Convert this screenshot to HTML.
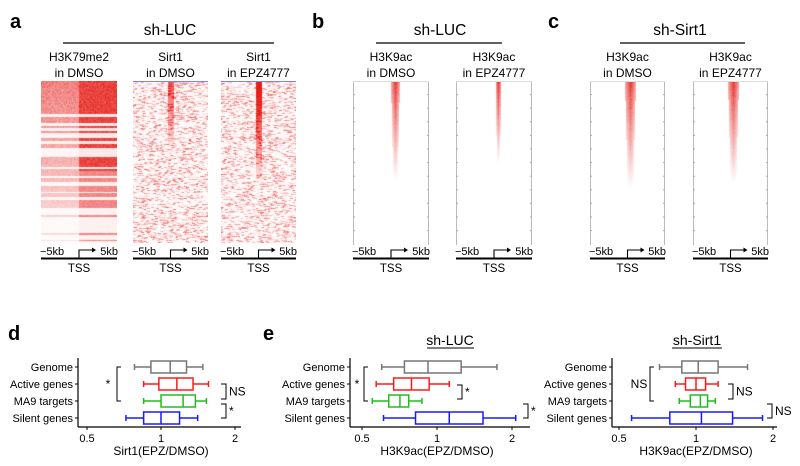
<!DOCTYPE html>
<html><head><meta charset="utf-8"><style>
html,body{margin:0;padding:0;background:#fff;}
#root{position:relative;width:800px;height:466px;overflow:hidden;font-family:"Liberation Sans",sans-serif;}
svg text{font-family:"Liberation Sans",sans-serif;}
canvas{position:absolute;}
</style></head><body>
<div id="root">
<canvas id="hmA1" width="76" height="162" style="left:41px;top:81px"></canvas>
<canvas id="hmA2" width="75" height="162" style="left:133px;top:81px"></canvas>
<canvas id="hmA3" width="75" height="162" style="left:221px;top:81px"></canvas>
<canvas id="hmB1" width="76" height="164" style="left:353px;top:81px"></canvas>
<canvas id="hmB2" width="76" height="164" style="left:456px;top:81px"></canvas>
<canvas id="hmC1" width="75" height="164" style="left:590px;top:81px"></canvas>
<canvas id="hmC2" width="75" height="164" style="left:693px;top:81px"></canvas>
<svg id="svg" width="800" height="466" style="position:absolute;left:0;top:0"></svg>
</div>
<script>
// ---- boxplot data (values: whiskerLow, q1, median, q3, whiskerHigh) ----
const categories = ["Genome","Active genes","MA9 targets","Silent genes"];
const colors = ["#777777","#ff1a1a","#22bb22","#1a1aff"];
const dGenome = [0.78,0.91,1.09,1.27,1.48];
const dActive = [0.85,0.98,1.16,1.35,1.56];
const dMA9 = [0.85,1.00,1.23,1.38,1.53];
const dSilent = [0.72,0.85,1.00,1.19,1.41];
const eGenome = [0.60,0.74,0.92,1.25,1.74];
const eActive = [0.57,0.67,0.79,0.93,1.12];
const eMA9 = [0.55,0.64,0.71,0.77,0.87];
const eSilent = [0.61,0.82,1.12,1.53,2.07];
const fGenome = [0.72,0.88,1.02,1.22,1.59];
const fActive = [0.83,0.91,1.00,1.09,1.22];
const fMA9 = [0.86,0.95,1.04,1.11,1.19];
const fSilent = [0.56,0.79,1.05,1.39,1.82];
const tickValues = [0.5,1,2];
const tickLabels = ["0.5","1","2"];

const NS="http://www.w3.org/2000/svg";
const svg=document.getElementById('svg');
function mk(tag,attrs,parent){const e=document.createElementNS(NS,tag);for(const k in attrs)e.setAttribute(k,attrs[k]);(parent||svg).appendChild(e);return e;}
function txt(x,y,s,size,anchor,extra,parent){const t=mk('text',Object.assign({x:x,y:y,'font-size':size,'text-anchor':anchor||'middle',fill:'#000'},extra||{}),parent);t.textContent=s;return t;}

[["a",10,28],["b",312,28],["c",548,28],["d",8,340],["e",263,340]].forEach(p=>{
  const t=txt(p[1],p[2],p[0],20,'start',{'font-weight':'bold'});
  
  
});

function header(cx,label,x1,x2){
  const t=txt(cx,35,label,15.5,'middle');
  
  
  const l=mk('line',{x1:x1,x2:x2,y1:43,y2:43,stroke:'#000','stroke-width':1.2});
  
  
}
header(170,"sh-LUC",63,274);
header(440,"sh-LUC",376,502);
header(680,"sh-Sirt1",620,745);

function colTitle(x,w,l1,l2){
  const cx=x+w/2;
  const g=mk('g',{});
  
  
  txt(cx,61,l1,12,'middle',{},g);txt(cx,77,l2,12,'middle',{},g);
  const a=mk('g',{});
  
  
  txt(x-1,255,"\u22125kb",11,'start',{},a);
  txt(x+w+1,255,"5kb",11,'end',{},a);
  mk('line',{x1:x,x2:x+w,y1:258.5,y2:258.5,stroke:'#000','stroke-width':2},a);
  const m=x+w/2;
  mk('path',{d:`M${m} 258 V250 H${m+14}`,fill:'none',stroke:'#000','stroke-width':1.1},a);
  mk('path',{d:`M${m+17} 250 l-4 -2.5 v5 z`,fill:'#000'},a);
  txt(m,272,"TSS",11.5,'middle',{},a);
}
colTitle(41,76,"H3K79me2","in DMSO");
colTitle(133,75,"Sirt1","in DMSO");
colTitle(221,75,"Sirt1","in EPZ4777");
colTitle(353,76,"H3K9ac","in DMSO");
colTitle(456,76,"H3K9ac","in EPZ4777");
colTitle(590,75,"H3K9ac","in DMSO");
colTitle(693,75,"H3K9ac","in EPZ4777");

[[353,76],[456,76],[590,75],[693,75]].forEach(p=>{
  const g=mk('g',{});
  
  
  mk('line',{x1:p[0]+0.5,x2:p[0]+0.5,y1:81,y2:245,stroke:'#bbb','stroke-width':1},g);
  mk('line',{x1:p[0]+p[1]-0.5,x2:p[0]+p[1]-0.5,y1:81,y2:245,stroke:'#bbb','stroke-width':1},g);
  mk('line',{x1:p[0],x2:p[0]+p[1],y1:81.5,y2:81.5,stroke:'#ddd','stroke-width':1},g);
  for(let i=1;i<12;i++){const y=81+i*13.6;
    mk('line',{x1:p[0],x2:p[0]+2,y1:y,y2:y,stroke:'#aaa'},g);
    mk('line',{x1:p[0]+p[1]-2,x2:p[0]+p[1],y1:y,y2:y,stroke:'#aaa'},g);}
});
[[133,75],[221,75]].forEach(p=>{const l=mk('line',{x1:p[0],x2:p[0]+p[1],y1:81.5,y2:81.5,stroke:'#8080ff','stroke-width':1});
  });

const rowY=[367,384,401,418];
function boxPanel(name,axX,axRight,x05,x1,series,labelX){
  const g=mk('g',{});
  
  
  const per=x1-x05;
  const sx=v=>x1+Math.log2(v)*per;
  mk('line',{x1:axX,x2:axX,y1:358,y2:427,stroke:'#000','stroke-width':1.2},g);
  mk('line',{x1:axX,x2:axRight,y1:427,y2:427,stroke:'#000','stroke-width':1.2},g);
  tickValues.forEach((v,i)=>{
    const t=mk('line',{x1:sx(v),x2:sx(v),y1:427,y2:430,stroke:'#000'},g);
    
    
    const l=txt(sx(v),442,tickLabels[i],11,'middle',{},g);
    
    
  });
  categories.forEach((c,i)=>{
    const y=rowY[i];
    mk('line',{x1:axX-3,x2:axX,y1:y,y2:y,stroke:'#000'},g);
    const l=txt(labelX,y+4,c,11,'end',{},g);
    
    
    const d=series[i],col=colors[i];
    const b=mk('g',{},g);
    
    
    mk('line',{x1:sx(d[0]),x2:sx(d[1]),y1:y,y2:y,stroke:col,'stroke-width':1.5},b);
    mk('line',{x1:sx(d[3]),x2:sx(d[4]),y1:y,y2:y,stroke:col,'stroke-width':1.5},b);
    mk('line',{x1:sx(d[0]),x2:sx(d[0]),y1:y-3,y2:y+3,stroke:col,'stroke-width':1.5},b);
    mk('line',{x1:sx(d[4]),x2:sx(d[4]),y1:y-3,y2:y+3,stroke:col,'stroke-width':1.5},b);
    mk('rect',{x:sx(d[1]),y:y-6,width:sx(d[3])-sx(d[1]),height:12,fill:'#fff',stroke:col,'stroke-width':1.5},b);
    mk('line',{x1:sx(d[2]),x2:sx(d[2]),y1:y-6,y2:y+6,stroke:col,'stroke-width':1.5},b);
  });
  return g;
}
function bracketL(x,y1,y2,label,lx,g){
  const b=mk('path',{d:`M${x+4} ${y1} H${x} V${y2} H${x+4}`,fill:'none',stroke:'#000','stroke-width':1},g);
  
  
  const t=txt(lx,(y1+y2)/2+4,label,12,'middle',{},g);
  
  
}
function bracketR(x,y1,y2,label,g){
  const b=mk('path',{d:`M${x-5} ${y1} H${x} V${y2} H${x-5}`,fill:'none',stroke:'#000','stroke-width':1},g);
  
  
  const t=txt(x+3,(y1+y2)/2+4,label,12,'start',{},g);
  
  
}
const gd=boxPanel('boxplot-d',78,241,87,161,[dGenome,dActive,dMA9,dSilent],73);
bracketL(117,367,401,"*",108,gd);
bracketR(226,384,399,"NS",gd);
bracketR(226,404,418,"*",gd);
const xd=txt(161,455,"Sirt1(EPZ/DMSO)",12,'middle',{},gd);


const ge=boxPanel('boxplot-e-shluc',350,530,362,437,[eGenome,eActive,eMA9,eSilent],345);
bracketL(364,367,401,"*",357,ge);
bracketR(462,385,399,"*",ge);
bracketR(528,404,418,"*",ge);
const xe=txt(437,455,"H3K9ac(EPZ/DMSO)",12,'middle',{},ge);

const te=txt(450,345,"sh-LUC",14,'middle',{},ge);

mk('line',{x1:427,x2:474,y1:348,y2:348,stroke:'#000'},ge);

const gf=boxPanel('boxplot-e-shsirt1',612,777,619,696,[fGenome,fActive,fMA9,fSilent],607);
bracketL(650,367,401,"NS",639,gf);
bracketR(733,384,399,"NS",gf);
bracketR(772,404,418,"NS",gf);
const xf=txt(696,455,"H3K9ac(EPZ/DMSO)",12,'middle',{},gf);

const tf=txt(697,345,"sh-Sirt1",14,'middle',{},gf);

mk('line',{x1:672,x2:722,y1:348,y2:348,stroke:'#000'},gf);

// ---- heatmap textures (deterministic) ----
let seed=12345;
function rnd(){seed=(seed*1103515245+12345)&0x7fffffff;return seed/0x7fffffff;}
function paint(id,fn){
  const c=document.getElementById(id),ctx=c.getContext('2d');
  const w=c.width,h=c.height,im=ctx.createImageData(w,h);
  for(let y=0;y<h;y++)for(let x=0;x<w;x++){
    const a=Math.max(0,Math.min(1,fn(x,y,w,h)));
    const i=(y*w+x)*4;
    im.data[i]=255-a*25;im.data[i+1]=255-a*225;im.data[i+2]=255-a*230;im.data[i+3]=255;
  }
  ctx.putImageData(im,0,0);
}
const rowsA=[];for(let y=0;y<170;){const n=1+Math.floor(rnd()*3);const v=rnd();for(let k=0;k<n;k++)rowsA.push(v);y+=n;}
paint('hmA1',(x,y,w,h)=>{
  const f=y/h;const r=rowsA[y];
  const on=r>(0.1+f*0.75)?1:0.12;
  if(x<w*0.5) return on*(0.55*(1-f)+0.15)*(0.6+0.4*rnd());
  const strong=f<0.55?0.95:0.6;
  return on*strong*(0.75+0.25*rnd());
});
function sirtFn(peak,amp){
  const streak=[];for(let i=0;i<200*40;i++)streak.push(rnd());
  return (x,y,w,h)=>{
    const s=streak[y*40+Math.floor((x+(y%3))/3)];
    let v=s>0.5?(s-0.5)*1.4:0.03;
    v*= (0.4+0.7*rnd());
    const dx=Math.abs(x-w*0.5);
    if(dx<3&&y<h*peak)v+=amp*(1-y/(h*peak))+0.1;
    return v;
  };
}
paint('hmA2',sirtFn(0.4,0.6));
paint('hmA3',sirtFn(0.6,1.0));
function acFn(cx,len,wid){
  return (x,y,w,h)=>{
    const f=y/(h*len);if(f>1)return 0;
    const dx=Math.abs(x-cx);const ww=wid*(1-f*0.5);
    if(dx>ww)return 0;
    return (1-f)*(1-dx/ww*0.6)*(0.8+0.2*rnd());
  };
}
paint('hmB1',acFn(42,0.6,4.5));
paint('hmB2',acFn(42,0.5,3));
paint('hmC1',acFn(40,0.65,5.5));
paint('hmC2',acFn(40,0.62,5.5));
</script>
</body></html>
